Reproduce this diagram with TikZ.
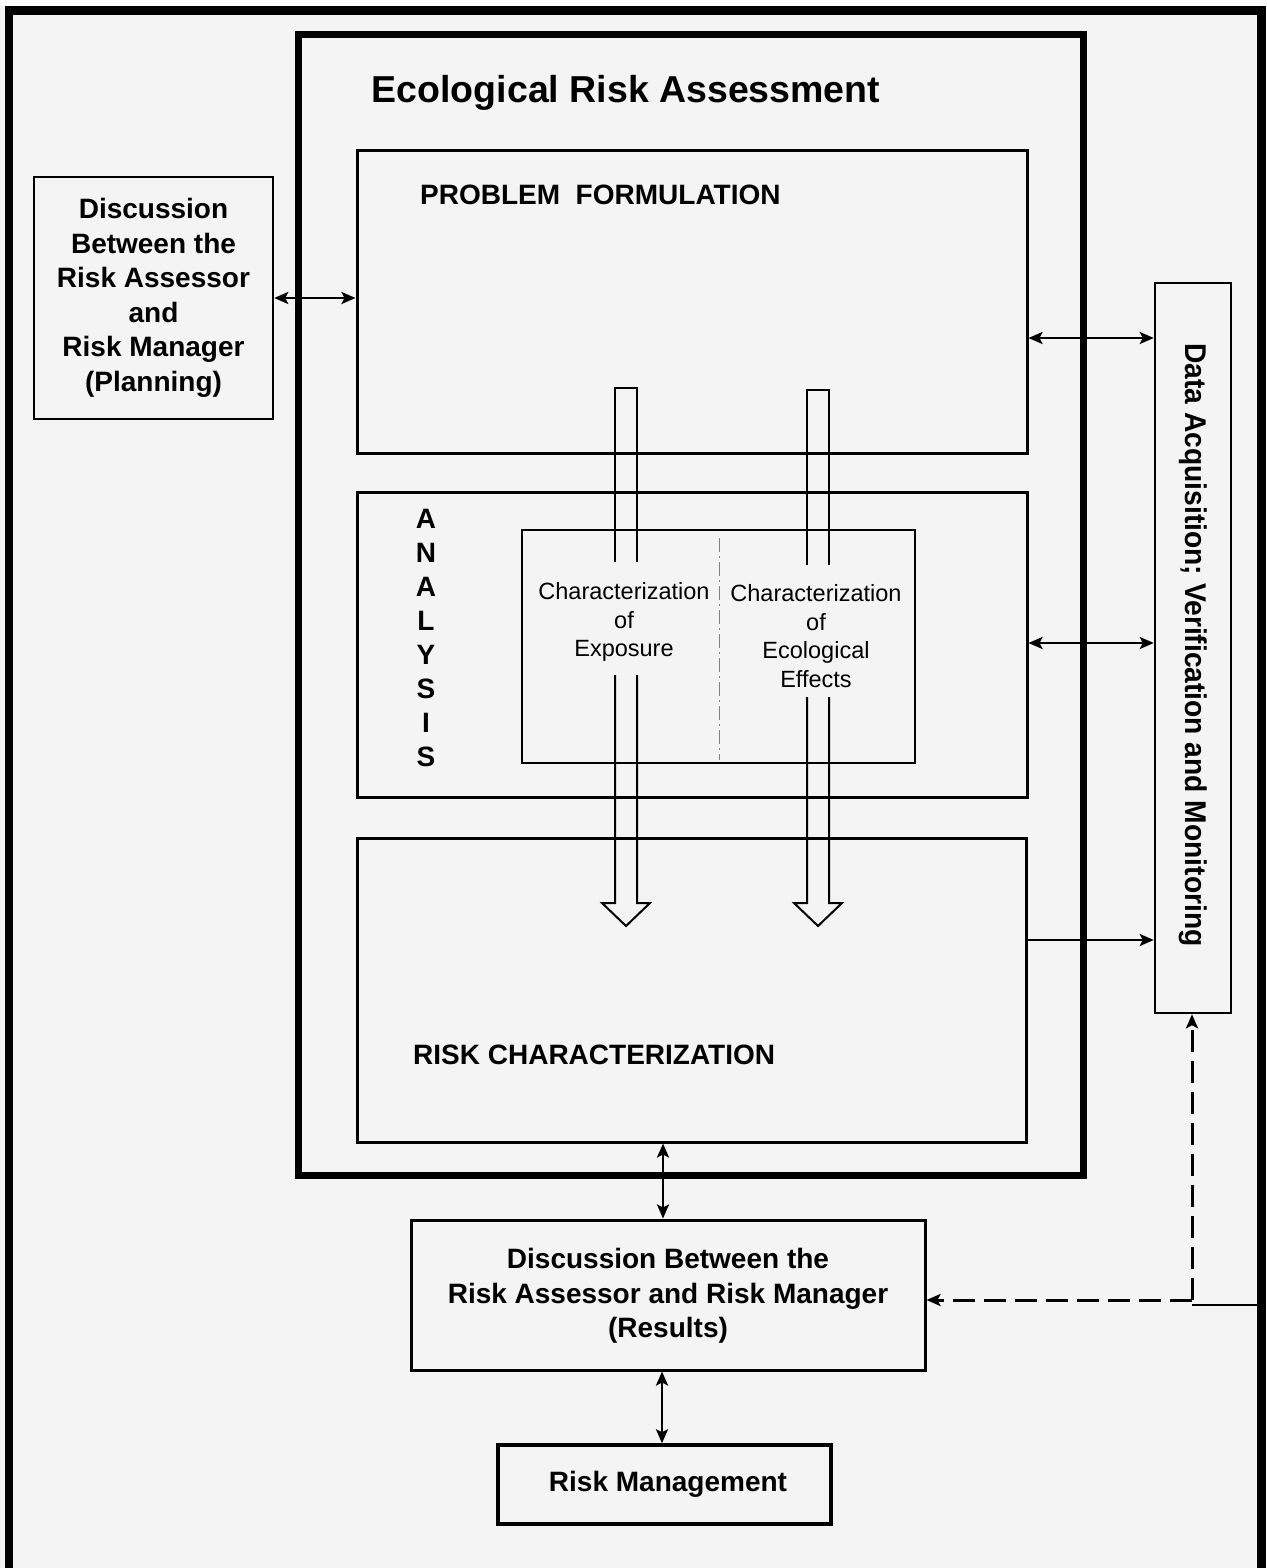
\documentclass[tikz,border=0pt]{standalone}
\usepackage{fontspec}
\setmainfont{Liberation Sans}
\newfontfamily\narrowsans[FakeStretch=0.94]{Liberation Sans}
\usetikzlibrary{arrows.meta}
\definecolor{paper}{RGB}{244,244,244}
\begin{document}
\begin{tikzpicture}[x=1pt,y=-1pt,
  box/.style={draw, line width=3pt, inner sep=0pt},
  thinbox/.style={draw, line width=2pt, inner sep=0pt},
  lbl/.style={font=\fontsize{28}{34.5}\selectfont\bfseries, align=center, inner sep=0pt},
  small/.style={font=\fontsize{23.5}{28.5}\selectfont, align=center, inner sep=0pt},
  tip/.style={Stealth[length=14pt,width=12pt,inset=3pt]},
  dbl/.style={line width=2.5pt, {Stealth[length=14pt,width=12pt,inset=3pt]}-{Stealth[length=14pt,width=12pt,inset=3pt]}},
  one/.style={line width=2.5pt, -{Stealth[length=14pt,width=12pt,inset=3pt]}},
  dsh/.style={line width=3pt, dash pattern=on 22pt off 9pt, -{Stealth[length=14pt,width=12pt,inset=3pt]}},
  hollow/.style={line width=2pt, line join=miter}
]
\useasboundingbox (0,0) rectangle (1266,1568);
\fill[paper] (0,0) rectangle (1266,1568);
\fill[white] (0,0) rectangle (1266,6);
% outer frame
\fill[black] (5,6) rectangle (1266,15);
\fill[black] (5,6) rectangle (13,1568);
\fill[black] (1257,6) rectangle (1266,1568);

% boxes
\node[draw, line width=7pt, inner sep=0pt, minimum width=785, minimum height=1140] (era) at (690.5,605) {};
\node[box, minimum width=670, minimum height=303] (pf) at (692,301.5) {};
\node[box, minimum width=670, minimum height=305] (an) at (692,644.5) {};
\node[box, minimum width=669, minimum height=304] (rc) at (691.5,990) {};
\node[thinbox, minimum width=393, minimum height=233] (inner) at (718.5,646.5) {};
\node[box, line width=2.5pt, minimum width=239, minimum height=242] (plan) at (153.5,298) {};
\node[box, line width=2.5pt, minimum width=76, minimum height=730] (data) at (1193,648) {};
\node[box, minimum width=514, minimum height=150] (res) at (668,1295) {};
\node[box, line width=3.5pt, minimum width=333, minimum height=79] (rm) at (664.5,1484.5) {};

% texts
\node[font=\fontsize{37.5}{40}\selectfont\bfseries, anchor=base, inner sep=0pt] (ttl) at (626,103) {Ecological Risk Assessment};
\node[lbl, anchor=base west] (pft) at (420,204) {PROBLEM\ \ FORMULATION};
\node[lbl, anchor=base west] (rct) at (413,1064) {RISK CHARACTERIZATION};
\node[lbl] (plant) at (plan.center) {Discussion\\Between the\\Risk Assessor\\and\\Risk Manager\\(Planning)};
\node[lbl] (rest) at (668,1296) {Discussion Between the\\Risk Assessor and Risk Manager\\(Results)};
\node[lbl] (rmt) at (668,1484) {Risk Management};
\node[lbl, font=\fontsize{28}{33.9}\selectfont\bfseries] (ant) at (426,638) {A\\N\\A\\L\\Y\\S\\I\\S};
\node[small] (expt) at (624,622) {Characterization\\of\\Exposure};
\node[small] (efft) at (816,636) {Characterization\\of\\Ecological\\Effects};
\node[font=\fontsize{30}{32}\selectfont\narrowsans\bfseries, rotate=-90, inner sep=0pt] (datat) at (1193,645) {Data Acquisition; Verification and Monitoring};

% divider inside inner box
\draw[gray, line width=0.8pt, dash pattern=on 14pt off 4pt on 2pt off 4pt] (719,538) -- (719,760);

% hollow arrows
\draw[hollow] (615,562) -- (615,388) -- (637,388) -- (637,562);
\draw[hollow] (615,675) -- (615,903) -- (602,903) -- (626,926) -- (650,903) -- (637,903) -- (637,675);
\draw[hollow] (807,565) -- (807,390) -- (829,390) -- (829,565);
\draw[hollow] (807,697) -- (807,903) -- (794,903) -- (818,926) -- (842,903) -- (829,903) -- (829,697);

% connectors
\draw[dbl] (plan.east) -- (plan.east -| pf.west);
\draw[dbl] (pf.east |- 0,338) -- (data.west |- 0,338);
\draw[dbl] (an.east |- 0,643) -- (data.west |- 0,643);
\draw[one] (rc.east |- 0,940) -- (data.west |- 0,940);
\draw[dbl] (663,0 |- rc.south) -- (663,0 |- res.north);
\draw[dbl] (662,0 |- res.south) -- (662,0 |- rm.north);

\coordinate (corner) at (1192,1300);
\coordinate (edge) at (1266,1305);
\draw[dsh] (corner) -- (corner |- data.south);
\draw[dsh] (corner) -- (corner -| res.east);
\draw[line width=1.5pt] (corner |- edge) -- (edge);
\end{tikzpicture}
\end{document}
